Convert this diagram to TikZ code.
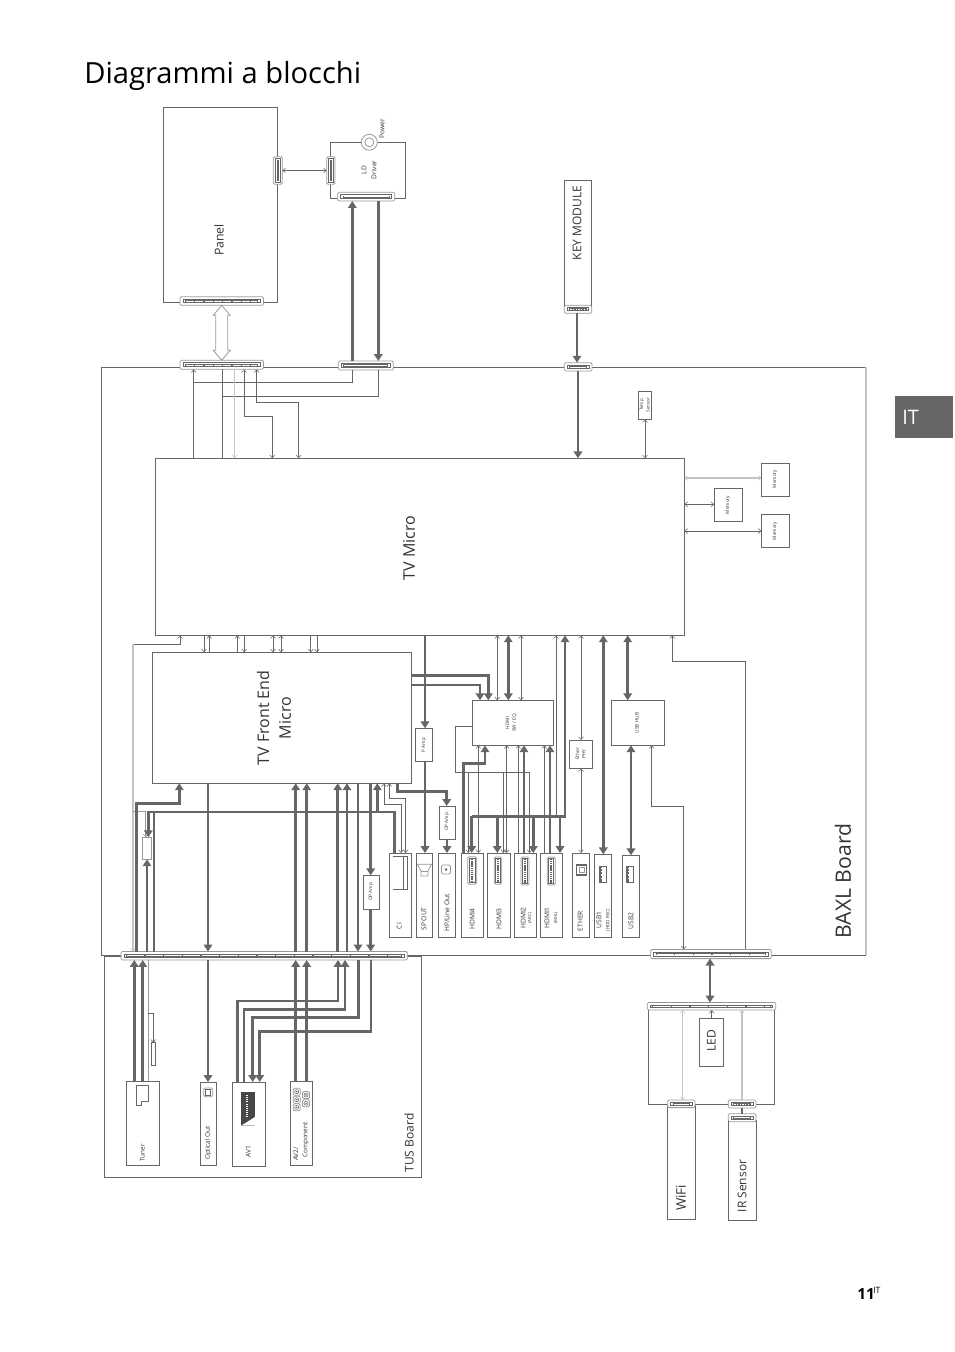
\documentclass[tikz,border=0pt]{standalone}
\usepackage{fontspec}
\setmainfont{Open Sans}
\usetikzlibrary{arrows.meta}
\definecolor{lin}{HTML}{666666}
\definecolor{lite}{HTML}{C4C4C4}
\definecolor{mid}{HTML}{999999}
\definecolor{txt}{HTML}{333333}
\tikzset{
  TT/.tip={Triangle[length=5.2pt,width=6.4pt]},
  BB/.tip={Straight Barb[length=2.1pt,width=3.6pt,line width=.4pt]},
  boxs/.style={draw=lin,line width=.65pt,inner sep=0pt,outer sep=0pt,rectangle},
  nobox/.style={inner sep=0pt,outer sep=0pt,rectangle},
  connout/.style={draw=mid,line width=.6pt,fill=white,rounded corners=1pt,inner sep=0pt,outer sep=0pt,rectangle},
  filterbox/.style={draw=mid,line width=.7pt,fill=white,inner sep=0pt,outer sep=0pt,rectangle},
  thinw/.style={draw=lin,line width=.55pt},
  thickw/.style={draw=lin,line width=1.9pt},
  midw/.style={draw=lin,line width=1.1pt},
  litew/.style={draw=lite,line width=.8pt},
  lab/.style={rotate=90,inner sep=0pt,text=txt},
  icon/.style={draw=mid,line width=.6pt,rounded corners=1pt,fill=white},
}
\newcommand\fsz[1]{\fontsize{#1pt}{#1pt}\selectfont}
\newcommand\bx[6][boxs]{\node[#1,minimum width={(#5-#3)*0.75pt},minimum height={(#6-#4)*0.75pt}] (#2) at ({(#3+#5)/2},{(#4+#6)/2}) {};}
% horizontal connector: name x1 y1 x2 y2 dash
\newcommand\cn[6]{\bx[connout]{#1}{#2}{#3}{#4}{#5}
  \draw[lin,line width=.5pt] ({#2+3},{#3+2.5}) rectangle ({#4-3},{#5-2.5});
  \draw[lin,line width=1.6pt] ({#2+5},{(#3+#5)/2}) -- ({#4-5},{(#3+#5)/2});
  \draw[white,line width=.45pt,dash pattern=on #6pt off 1pt] ({#2+6},{(#3+#5)/2}) -- ({#4-6},{(#3+#5)/2});}
% vertical connector
\newcommand\cnv[5]{\bx[connout]{#1}{#2}{#3}{#4}{#5}
  \draw[lin,line width=.5pt] ({#2+2},{#3+2}) rectangle ({#4-2},{#5-2});
  \draw[lin,line width=1.6pt] ({(#2+#4)/2},{#3+3}) -- ({(#2+#4)/2},{#5-3});}
% HDMI-type port
\newcommand\hport[4]{\draw[icon] (#1,#2) rectangle (#3,#4);
  \draw[lin,line width=.5pt] ({#1+1.5},{#2+1.5}) rectangle ({#3-1.5},{#4-1.5});
  \draw[lin,line width=1.5pt,dash pattern=on .9pt off .5pt] ({(#1+#3)/2},{#2+2}) -- ({(#1+#3)/2},{#4-2});}
\newcommand\uport[4]{\draw[lin,line width=.7pt,fill=white] (#1,#2) rectangle (#3,#4);
  \fill[lin] (#1,#2) rectangle ({#1+3},#4);
  \draw[white,line width=.8pt,dash pattern=on 1pt off 1.6pt] ({#1+1.8},{#2+1.5}) -- ({#1+1.8},{#4-1});}
\newcommand\rca[2]{\draw[icon] ({#1-3.5},{#2-3.5}) rectangle ({#1+3.5},{#2+3.5});
  \draw[lin,line width=.4pt] (#1,#2) circle (2);\fill[lin] (#1,#2) circle (.8);}
\begin{document}
\begin{tikzpicture}[x=0.75pt,y=-0.75pt]
\useasboundingbox (0,0) rectangle (954,1352);
% ---- title, tab, page number
\node[anchor=base west,inner sep=0pt,text=black,font=\fsz{21.85}] (title) at (84,84) {Diagrammi a blocchi};
\bx[nobox,fill=lin]{tab}{895}{396}{953}{438}
\node[inner sep=0pt,text=white,anchor=base west,font=\fsz{15}] (tabt) at (902,424) {IT};
\node[inner sep=0pt,anchor=base west,font=\bfseries\fsz{11.5}] (pagen) at (857,1299) {11};
\node[inner sep=0pt,anchor=base west,font=\fsz{6.5}] (pagei) at (873,1293) {IT};
% ---- boards
\bx[nobox]{baxl}{101.7}{367.3}{866}{955}
\draw[boxs] (baxl.north east) -- (baxl.north west) -- (baxl.south west) -- (baxl.south east);
\draw[litew] (baxl.north east) -- (baxl.south east);
\bx{tus}{104.7}{956}{421.7}{1177.7}
\bx{panel}{163.3}{107.3}{277.3}{302}
\bx{lddrv}{330.3}{142.3}{405.3}{198.7}
\bx{keym}{564.3}{180.3}{591.7}{306}
\bx{micro}{155.3}{458.3}{684.4}{635.3}
\bx{front}{152.3}{652.3}{411.7}{783.3}
\bx{tempS}{638.3}{391.3}{651.7}{419.3}
\bx{mem1}{761.3}{463.3}{789.3}{496.3}
\bx{mem2}{714.3}{488.3}{742.3}{521.3}
\bx{mem3}{761.3}{514.3}{789.3}{547.3}
\bx{hdmisw}{472.3}{700.3}{553.7}{745.3}
\bx{usbhub}{611.7}{700.3}{664.3}{745.3}
\bx{pamp}{415.3}{728.3}{432.7}{761.3}
\bx{ether}{569.3}{740}{592.7}{768.3}
\bx{opamp}{439.3}{806}{455.7}{839.3}
\bx{opampb}{363.3}{875.3}{379.7}{909.3}
\bx[filterbox]{filta}{142.7}{837.3}{151.7}{859.3}
\bx{filtb}{151.3}{1042.7}{155.7}{1065.3}
\bx{pCI}{389.3}{853}{411.7}{937}
\bx{pSP}{416.3}{853}{432.7}{937}
\bx{pHP}{438.3}{853}{455.7}{937}
\bx{pH4}{461.3}{853}{483.7}{937}
\bx{pH3}{487.3}{853}{510.7}{937}
\bx{pH2}{514.3}{853}{536.7}{937}
\bx{pH1}{540.3}{853}{562.7}{937}
\bx{pET}{572.3}{853}{589.7}{937}
\bx{pU1}{594.3}{854.3}{611.7}{937}
\bx{pU2}{622.3}{855.3}{639.7}{937.3}
\bx{tuner}{126.7}{1081}{159.7}{1165.3}
\bx{optic}{200.3}{1082}{216.7}{1165.3}
\bx{avone}{232.3}{1082}{265.7}{1166}
\bx{avtwo}{290.3}{1081}{312.7}{1165.3}
\bx{wifib}{648.3}{1005}{774.7}{1104}
\bx{led}{699.3}{1018.4}{723.7}{1066.4}
\bx{wifi}{667.7}{1104}{695}{1219}
\bx{irs}{728.3}{1120}{756}{1220}
% ---- connectors (boxes with pins)
\cn{panelc}{180}{296.7}{263.4}{305.3}{6}
\cn{topc}{180}{360.3}{263.4}{369.3}{6}
\cn{ldc}{337.7}{192.3}{394.7}{201}{60}
\cn{ldb}{338.3}{361}{393.3}{370}{60}
\cn{keyc}{564.3}{305.3}{591.7}{313.3}{1}
\cn{keyb}{564.3}{362.7}{592}{371}{60}
\cn{busa}{121}{951.5}{407.3}{960}{13}
\cn{busb}{650.7}{949.4}{771.3}{958.6}{13}
\cn{wbtop}{647.3}{1002.5}{775.7}{1010}{13}
\cn{wific}{667.7}{1100}{695}{1107.6}{60}
\cn{irc}{728.3}{1100}{756}{1108}{1}
\cn{ird}{728.3}{1113.7}{756}{1121.8}{60}
\cnv{panels}{273.3}{156.7}{282.3}{184.3}
\cnv{lds}{326.7}{156.7}{335}{184.3}
% ---- Power
\node[circle,draw=mid,line width=.6pt,fill=white,minimum size=16pt*.75,inner sep=0pt] (powerc) at (369.3,142.3) {};
\node[circle,draw=mid,line width=.6pt,minimum size=9pt*.75,inner sep=0pt] (powerd) at (369.3,142.3) {};
% ---- top wiring
\draw[thinw,BB-BB] (panels.east) -- (lds.west);
\coordinate (ha) at (panelc.south -| 221.7,0);
\draw[mid,line width=.6pt,fill=white] (ha) -- ++(8.5,10) -- ++(-2.5,0) -- ++(0,35) -- ++(2.5,0) -- ++(-8.5,10) -- ++(-8.5,-10) -- ++(2.5,0) -- ++(0,-35) -- ++(-2.5,0) -- cycle;
\draw[thickw,TT-] (ldc.south -| 352.3,0) -- (ldb.north -| 352.3,0);
\draw[thickw,-TT] (ldc.south -| 378.3,0) -- (ldb.north -| 378.3,0);
\draw[thickw,-TT] (keyc.south -| 577,0) -- (keyb.north -| 577,0);
\draw[thickw,-TT] (keyb.south -| 578,0) -- (micro.north -| 578,0);
\draw[thinw,BB-BB] (tempS.south -| 645,0) -- (micro.north -| 645,0);
\draw[thinw,BB-] (topc.south -| 193.7,0) -- (micro.north -| 193.7,0);
\draw[thinw] (193.7,382.7) -- (352.3,382.7) -- (ldb.south -| 352.3,0);
\draw[thinw] (topc.south -| 222.3,0) -- (micro.north -| 222.3,0);
\draw[thinw] (222.3,396.3) -- (378.3,396.3) -- (ldb.south -| 378.3,0);
\draw[litew,-BB] (topc.south -| 234.7,0) -- (micro.north -| 234.7,0);
\draw[thinw,BB-BB] (topc.south -| 244,0) -- (244,416.3) -- (272.3,416.3) -- (micro.north -| 272.3,0);
\draw[thinw,BB-BB] (topc.south -| 256.7,0) -- (256.7,402.3) -- (298.7,402.3) -- (micro.north -| 298.7,0);
% memories
\draw[litew,BB-BB] (micro.east |- 0,478) -- (mem1.west |- 0,478);
\draw[thinw,BB-BB] (micro.east |- 0,504.3) -- (mem2.west |- 0,504.3);
\draw[thinw,BB-BB] (micro.east |- 0,531) -- (mem3.west |- 0,531);
% micro <-> front
\foreach \x/\t in {204/-BB,209.3/BB-,237.3/BB-,244.3/-BB,273/BB-BB,281/BB-BB,310.7/-BB,317/-BB}
  {\draw[thinw,\t] (micro.south -| \x,0) -- (front.north -| \x,0);}
% micro left return
\draw[thinw,BB-] (micro.south -| 180,0) -- (180,644) -- (133,644);
\draw[litew,-BB] (133,644) -- (busa.north -| 133,0);
\draw[mid,line width=.55pt] (133,811.7) -- (145.7,811.7);
\draw[mid,line width=.55pt,-BB] (145.7,811.7) -- (filta.north -| 145.7,0);
% front bottom
\draw[thickw,TT-] (front.south -| 179.3,0) -- (179.3,803.3) -- (136.7,803.3) -- (busa.north -| 136.7,0);
\draw[thickw,-TT] (front.south -| 208,0) -- (busa.north -| 208,0);
\foreach \x in {295.7,306.7,337.7,347}
  {\draw[thickw,TT-] (front.south -| \x,0) -- (busa.north -| \x,0);}
\draw[thickw,-TT] (front.south -| 358,0) -- (busa.north -| 358,0);
\draw[thickw,-TT] (front.south -| 370.7,0) -- (opampb.north -| 370.7,0);
\draw[thickw,-TT] (opampb.south -| 370.7,0) -- (busa.north -| 370.7,0);
\draw[thickw,TT-] (front.south -| 377.3,0) -- (377.3,812);
\draw[thickw] (pCI.north -| 394.7,0) -- (394.7,812) -- (148.3,812);
\draw[thickw,-TT] (148.3,811) -- (filta.north -| 148.3,0);
\draw[thickw] (154,812) -- (busa.north -| 154,0);
\draw[thickw,-TT] (busa.north -| 147,0) -- (filta.south -| 147,0);
\draw[thinw,BB-BB] (front.south -| 384,0) -- (384,804) -- (401,804) -- (pCI.north -| 401,0);
\draw[thinw,BB-BB] (front.south -| 389.3,0) -- (389.3,798.3) -- (405.7,798.3) -- (pCI.north -| 405.7,0);
\draw[thickw,-TT] (front.south -| 397.3,0) -- (397.3,791.7) -- (446.7,791.7) -- (opamp.north -| 446.7,0);
\draw[thickw,-TT] (opamp.south -| 447,0) -- (pHP.north -| 447,0);
% front right
\draw[thickw,-TT] (front.east |- 0,675.7) -- (488.3,675.7) -- (hdmisw.north -| 488.3,0);
\draw[midw,line width=1.7pt,-TT] (front.east |- 0,684.7) -- (480,684.7) -- (hdmisw.north -| 480,0);
% P Amp / SP OUT
\draw[thickw,-TT] (micro.south -| 425,0) -- (pamp.north -| 425,0);
\draw[thickw,-TT] (pamp.south -| 425,0) -- (pSP.north -| 425,0);
% HDMI block
\draw[thinw,BB-BB] (micro.south -| 497.3,0) -- (hdmisw.north -| 497.3,0);
\draw[thickw,TT-TT] (micro.south -| 508.3,0) -- (hdmisw.north -| 508.3,0);
\draw[thinw,BB-BB] (micro.south -| 521,0) -- (hdmisw.north -| 521,0);
\draw[thinw,BB-] (micro.south -| 556,0) -- (556,816.7);
\draw[thickw,TT-] (micro.south -| 565,0) -- (565,816.7) -- (471.7,816.7);
\draw[thickw,-TT] (471.7,815.7) -- (pH4.north -| 471.7,0);
\foreach \x in {497.3,533.3,560}
  {\draw[thickw,-TT] (\x,816.7) -- (pH3.north -| \x,0);}
\draw[thinw] (hdmisw.west |- 0,726.3) -- (455.3,726.3) -- (455.3,772.3) -- (529.7,772.3);
\draw[thinw,-BB] (468.3,772.3) -- (pH4.north -| 468.3,0);
\draw[thinw,-BB] (503.3,772.3) -- (pH3.north -| 503.3,0);
\draw[thinw,-BB] (529.7,772.3) -- (pH2.north -| 529.7,0);
\draw[thickw,TT-] (hdmisw.south -| 485,0) -- (485,763.3) -- (463.3,763.3) -- (pH4.north -| 463.3,0);
\draw[thinw,BB-BB] (hdmisw.south -| 478.3,0) -- (pH4.north -| 478.3,0);
\draw[thinw,BB-BB] (hdmisw.south -| 506.7,0) -- (pH3.north -| 506.7,0);
\draw[thinw,BB-] (hdmisw.south -| 518.3,0) -- (pH2.north -| 518.3,0);
\draw[thickw,TT-] (hdmisw.south -| 524,0) -- (pH2.north -| 524,0);
\draw[thinw,BB-] (hdmisw.south -| 544.3,0) -- (pH1.north -| 544.3,0);
\draw[thickw,TT-] (hdmisw.south -| 550,0) -- (pH1.north -| 550,0);
% ether, usb
\draw[thinw,BB-BB] (micro.south -| 581,0) -- (ether.north -| 581,0);
\draw[thinw,BB-BB] (ether.south -| 581,0) -- (pET.north -| 581,0);
\draw[thickw,TT-TT] (micro.south -| 603.3,0) -- (pU1.north -| 603.3,0);
\draw[thickw,TT-TT] (micro.south -| 627.7,0) -- (usbhub.north -| 627.7,0);
\draw[thickw,TT-TT] (usbhub.south -| 631,0) -- (pU2.north -| 631,0);
\draw[thinw,BB-] (micro.south -| 672.3,0) -- (672.3,661.3) -- (745.3,661.3) -- (busb.north -| 745.3,0);
\draw[thinw,BB-BB] (usbhub.south -| 651.7,0) -- (651.7,806.5) -- (683.7,806.5) -- (busb.north -| 683.7,0);
% below busb
\draw[thickw,TT-TT] (busb.south -| 710,0) -- (wbtop.north -| 710,0);
\draw[thinw,BB-] (wbtop.south -| 711.7,0) -- (led.north -| 711.7,0);
\draw[litew,BB-BB] (wbtop.south -| 682.7,0) -- (wific.north -| 682.7,0);
\draw[litew,BB-] (wbtop.south -| 742,0) -- (irc.north -| 742,0);
\draw[thickw,line width=1.4pt] (irc.south -| 742,0) -- (ird.north -| 742,0);
% TUS wiring
\foreach \x in {134.3,142.7}
  {\draw[thickw,-TT] (tuner.north -| \x,0) -- (busa.south -| \x,0);}
\draw[draw=mid,line width=.6pt] (tuner.north -| 148.3,0) -- (busa.south -| 148.3,0);
\draw[thinw,-BB] (148.3,1013) -- (153.3,1013) -- (filtb.north -| 153.3,0);
\draw[thickw,-TT] (busa.south -| 208,0) -- (optic.north -| 208,0);
\draw[thickw,-TT] (avone.north -| 237.3,0) -- (237.3,1001) -- (338,1001) -- (busa.south -| 338,0);
\draw[thickw,-TT] (avone.north -| 244,0) -- (244,1009.7) -- (345,1009.7) -- (busa.south -| 345,0);
\draw[thickw,TT-] (avone.north -| 252.7,0) -- (252.7,1017.7) -- (358.3,1017.7) -- (busa.south -| 358.3,0);
\draw[thickw,TT-] (avone.north -| 259.7,0) -- (259.7,1031.3) -- (371,1031.3) -- (busa.south -| 371,0);
\foreach \x in {295.7,306.7}
  {\draw[thickw,-TT] (avtwo.north -| \x,0) -- (busa.south -| \x,0);}
% ---- port icons
\draw[lin,line width=.6pt] (392.7,856) -- (407.3,856) -- (407.3,889) -- (392.7,889);
\draw[lin,line width=.6pt] (403.3,856) -- (403.3,889);
\draw[mid,line width=.55pt] (417.5,864.3) -- (431.5,864.3) -- (428,871) -- (428,876) -- (421,876) -- (421,871) -- cycle;
\draw[mid,line width=.4pt] (421,871) -- (428,871);
\draw[icon] (441.5,865) rectangle (450.5,874);\fill[lin] (446,869.5) circle (1.3);
\hport{467.7}{856.7}{476.7}{884.3}
\hport{494.3}{857}{501.7}{884.3}
\hport{521}{857}{529}{885}
\hport{547.3}{857}{555.3}{885}
\draw[lin,line width=1pt] (576.7,865) rectangle (586.3,875);
\draw[mid,line width=.5pt] (579,867.5) rectangle (584,872.5);
\uport{599.3}{866}{606.3}{882}
\uport{626.3}{866}{633.7}{882}
\draw[icon] (203.7,1088) rectangle (212.7,1096.7);
\draw[lin,line width=.4pt] (205.5,1089.5) rectangle (210.5,1095);
\fill[lin!70!black] (241,1092.3) -- (255,1092.3) -- (255,1125.7) -- (241,1125.7) -- cycle;
\fill[white] (241,1125.7) -- (255,1125.7) -- (255,1117) -- cycle;
\draw[white,line width=1.4pt,dash pattern=on .8pt off .8pt] (247,1095) -- (247,1118);
\draw[lin,line width=.6pt] (136.7,1085) -- (148.3,1085) -- (148.3,1101.7) -- (141.7,1101.7) -- (141.7,1105.7) -- (136.7,1105.7) -- cycle;
\rca{296.7}{1091.7}\rca{296.7}{1099.7}\rca{296.7}{1107.3}\rca{306}{1095}\rca{306}{1103.3}
% ---- texts
\node[lab,font=\fsz{9.2}] (tPanel) at (219,240) {Panel};
\node[lab,font=\fsz{5}] (tLD) at (364,170) {LD};
\node[lab,font=\fsz{5}] (tDr) at (374,170) {Driver};
\node[lab,font=\fsz{5}] (tPow) at (382,129) {Power};
\node[lab,font=\fsz{9}] (tKey) at (577,223) {KEY MODULE};
\node[lab,font=\fsz{3.4}] (tTemp) at (642,405) {Temp};
\node[lab,font=\fsz{3.4}] (tSens) at (648,405) {Sensor};
\node[lab,font=\fsz{3.5}] (tM1) at (775,479) {Memory};
\node[lab,font=\fsz{3.5}] (tM2) at (728,505) {Memory};
\node[lab,font=\fsz{3.5}] (tM3) at (775,531) {Memory};
\node[lab,font=\fsz{12}] (tMicro) at (409,548) {TV Micro};
\node[lab,font=\fsz{12}] (tFE) at (263,718) {TV Front End};
\node[lab,font=\fsz{12}] (tFM) at (285,718) {Micro};
\node[lab,font=\fsz{3.5}] (tPA) at (424,745) {P Amp};
\node[lab,font=\fsz{3.5}] (tOA) at (447,822) {OP Amp};
\node[lab,font=\fsz{3.5}] (tOB) at (371,892) {OP Amp};
\node[lab,font=\fsz{3.6}] (tHS) at (507.5,723) {HDMI};
\node[lab,font=\fsz{3.6}] (tHE) at (514.5,723) {SW / EQ};
\node[lab,font=\fsz{3.6}] (tUH) at (637,723) {USB HUB};
\node[lab,font=\fsz{3.6}] (tEP) at (577.3,754) {Ether};
\node[lab,font=\fsz{3.6}] (tEH) at (584,754) {PHY};
\node[lab,font=\fsz{5}] (tCI) at (399.3,926) {CI};
\node[lab,font=\fsz{5}] (tSP) at (424,919) {SP OUT};
\node[lab,font=\fsz{5}] (tHP) at (447,913) {HP/Line Out};
\node[lab,font=\fsz{5}] (tH4) at (472.3,919) {HDMI4};
\node[lab,font=\fsz{5}] (tH3) at (499,919) {HDMI3};
\node[lab,font=\fsz{5}] (tH2) at (523.3,918) {HDMI2};
\node[lab,font=\fsz{3.2}] (tARC) at (530,918) {(ARC)};
\node[lab,font=\fsz{5}] (tH1) at (547,918) {HDMI1};
\node[lab,font=\fsz{3.2}] (tMHL) at (556,918) {(MHL)};
\node[lab,font=\fsz{5}] (tET) at (580.3,921) {ETHER};
\node[lab,font=\fsz{5}] (tU1) at (599,920) {USB1};
\node[lab,font=\fsz{3.4}] (tHD) at (608,920) {(HDD REC)};
\node[lab,font=\fsz{5}] (tU2) at (631,921) {USB2};
\node[lab,font=\fsz{4.8}] (tTu) at (142.3,1152.7) {Tuner};
\node[lab,font=\fsz{4.8}] (tOp) at (208.3,1143) {Optical Out};
\node[lab,font=\fsz{5}] (tA1) at (248.3,1152) {AV1};
\node[lab,font=\fsz{4.8}] (tA2) at (295.7,1154) {AV2/};
\node[lab,font=\fsz{4.8}] (tCo) at (305.7,1140) {Component};
\node[lab,font=\fsz{9}] (tTus) at (409,1143) {TUS Board};
\node[lab,font=\fsz{15.9}] (tBaxl) at (843,881) {BAXL Board};
\node[lab,font=\fsz{10}] (tWi) at (681,1198) {WiFi};
\node[lab,font=\fsz{9}] (tIR) at (742,1186) {IR Sensor};
\node[lab,font=\fsz{9}] (tLED) at (711.3,1041) {LED};
\end{tikzpicture}
\end{document}
